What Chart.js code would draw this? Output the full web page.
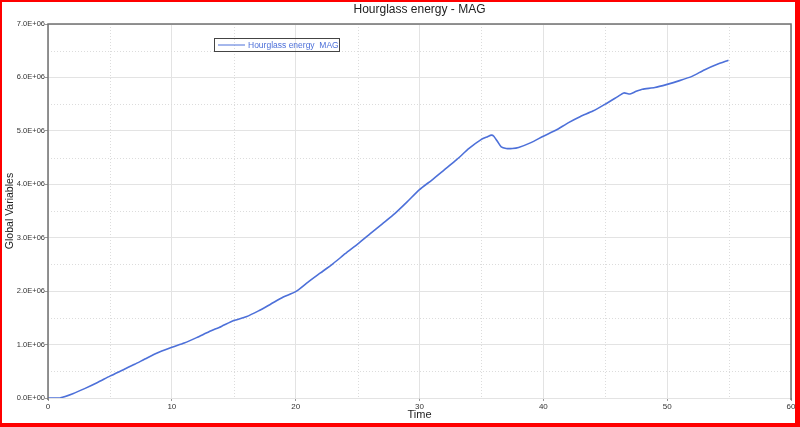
<!DOCTYPE html>
<html>
<head>
<meta charset="utf-8">
<script src="https://cdn.jsdelivr.net/npm/chart.js@4/dist/chart.umd.min.js"></script>
<style>
    body { margin: 0; background: #fff; }
</style>
</head>
<body>
<canvas id="hgChart" width="800" height="427"></canvas>
<script>
// time (x) and hourglass energy (y)
const timeValues = [0, 1, 2, 3, 4, 5, 6, 7, 8, 9, 10, 11, 12, 13, 14, 15, 16, 17, 18, 19,
    20, 21, 22, 23, 24, 25, 26, 27, 28, 29, 30, 31, 32, 33, 34, 35, 35.5, 35.8, 36.0, 36.3,
    36.6, 37.0, 37.5, 38, 39, 40, 41, 42, 43, 44, 45, 46, 46.5, 47, 47.5, 48, 49, 50, 51, 52,
    53, 54, 54.95];
const energyValues = [0, 0.005e6, 0.08e6, 0.18e6, 0.29e6, 0.41e6, 0.52e6, 0.63e6, 0.75e6, 0.86e6,
    0.95e6, 1.03e6, 1.13e6, 1.24e6, 1.34e6, 1.45e6, 1.52e6, 1.63e6, 1.76e6, 1.89e6,
    1.99e6, 2.17e6, 2.34e6, 2.51e6, 2.70e6, 2.88e6, 3.07e6, 3.26e6, 3.45e6, 3.67e6,
    3.90e6, 4.08e6, 4.27e6, 4.46e6, 4.67e6, 4.84e6, 4.89e6, 4.92e6, 4.90e6, 4.80e6,
    4.70e6, 4.67e6, 4.67e6, 4.69e6, 4.78e6, 4.90e6, 5.01e6, 5.15e6, 5.27e6, 5.37e6,
    5.50e6, 5.64e6, 5.71e6, 5.69e6, 5.74e6, 5.78e6, 5.81e6, 5.87e6, 5.94e6, 6.02e6,
    6.14e6, 6.24e6, 6.32e6];

const xTickLabels = ['0', '10', '20', '30', '40', '50', '60'];
const yTickLabels = ['0.0E+00', '1.0E+06', '2.0E+06', '3.0E+06', '4.0E+06', '5.0E+06', '6.0E+06', '7.0E+06'];
const seriesLabel = 'Hourglass energy  MAG';

const LINE_COLOR = '#4d70d9';
const FONT = 'Liberation Sans';

// dotted minor grid at half steps
const minorGrid = {
    id: 'minorGrid',
    beforeDatasetsDraw(chart) {
        const { ctx, chartArea: a, scales: { x, y } } = chart;
        ctx.save();
        ctx.strokeStyle = '#dcdcdc';
        ctx.lineWidth = 1;
        ctx.setLineDash([1, 2]);
        for (let v = 5; v < 60; v += 10) {
            const px = Math.round(x.getPixelForValue(v)) + 0.5;
            ctx.beginPath(); ctx.moveTo(px, a.top); ctx.lineTo(px, a.bottom); ctx.stroke();
        }
        for (let v = 0.5e6; v < 7e6; v += 1e6) {
            const py = Math.round(y.getPixelForValue(v)) + 0.5;
            ctx.beginPath(); ctx.moveTo(a.left, py); ctx.lineTo(a.right, py); ctx.stroke();
        }
        ctx.restore();
    }
};

// plot frame, legend box and red outer border
const decorations = {
    id: 'decorations',
    afterDraw(chart) {
        const { ctx, chartArea: a } = chart;
        ctx.save();
        ctx.strokeStyle = '#707070';
        ctx.lineWidth = 1.5;
        ctx.beginPath();
        ctx.moveTo(a.left, a.bottom + 2);
        ctx.lineTo(a.left, a.top);
        ctx.lineTo(a.right, a.top);
        ctx.lineTo(a.right, a.bottom + 2);
        ctx.stroke();

        // legend
        const ds = chart.data.datasets[0];
        ctx.lineWidth = 1;
        ctx.strokeStyle = '#444';
        ctx.strokeRect(214.5, 38.5, 125, 13);
        ctx.strokeStyle = ds.borderColor;
        ctx.beginPath(); ctx.moveTo(218, 45); ctx.lineTo(245, 45); ctx.stroke();
        ctx.fillStyle = ds.borderColor;
        ctx.font = '8.5px "' + FONT + '"';
        ctx.textBaseline = 'middle';
        ctx.fillText(ds.label, 248, 45.5);

        // red border
        ctx.fillStyle = '#ff0000';
        ctx.fillRect(0, 0, 800, 2);
        ctx.fillRect(0, 0, 2, 427);
        ctx.fillRect(795, 0, 5, 427);
        ctx.fillRect(0, 423, 800, 4);
        ctx.restore();
    }
};

const ctx = document.getElementById('hgChart').getContext('2d');
const hgChart = new Chart(ctx, {
    type: 'scatter',
    data: {
        datasets: [{
            label: seriesLabel,
            data: timeValues.map((t, i) => ({ x: t, y: energyValues[i] })),
            showLine: true,
            borderColor: LINE_COLOR,
            borderWidth: 1.6,
            pointRadius: 0,
            tension: 0.2
        }]
    },
    options: {
        responsive: false,
        animation: false,
        layout: { padding: { left: 0, right: 9, top: 0, bottom: 0 } },
        plugins: {
            legend: { display: false },
            tooltip: { enabled: false },
            title: {
                display: true,
                text: 'Hourglass energy - MAG',
                fullSize: false,
                color: '#222',
                font: { family: FONT, size: 12, weight: 'normal', lineHeight: 1.3 },
                padding: { top: 2, bottom: 6.4 }
            }
        },
        scales: {
            x: {
                type: 'linear',
                min: 0,
                max: 60,
                afterFit(scale) { scale.height = 29; },
                ticks: {
                    stepSize: 10,
                    padding: 1,
                    color: '#333',
                    font: { family: FONT, size: 8 },
                    maxRotation: 0,
                    callback: v => xTickLabels[Math.round(v / 10)]
                },
                grid: { color: '#e3e3e3', tickLength: 3, tickColor: '#999' },
                border: { display: false },
                title: {
                    display: true,
                    text: 'Time',
                    color: '#222',
                    font: { family: FONT, size: 11 },
                    padding: { top: 0, bottom: 5.4 }
                }
            },
            y: {
                min: 0,
                max: 7e6,
                afterFit(scale) { scale.width = 48; },
                ticks: {
                    stepSize: 1e6,
                    padding: 0,
                    color: '#333',
                    font: { family: FONT, size: 7.5 },
                    callback: v => yTickLabels[Math.round(v / 1e6)]
                },
                grid: { color: '#e3e3e3', tickLength: 3, tickColor: '#999' },
                border: { display: false },
                title: {
                    display: true,
                    text: 'Global Variables',
                    color: '#222',
                    font: { family: FONT, size: 10.5 },
                    padding: { top: 4.2, bottom: 0 }
                }
            }
        }
    },
    plugins: [minorGrid, decorations]
});
</script>
</body>
</html>
